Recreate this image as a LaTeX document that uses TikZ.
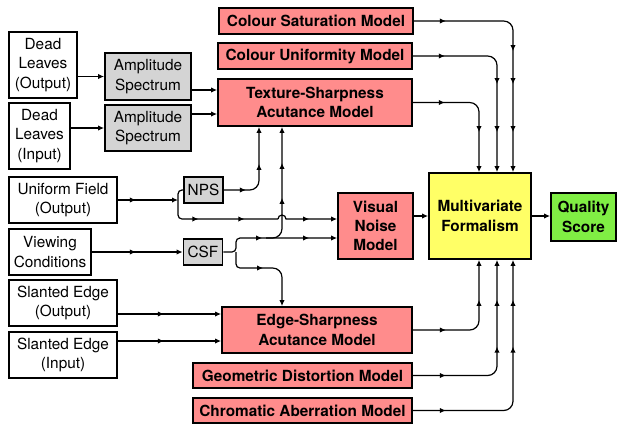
\documentclass[tikz,border=0pt]{standalone}
\usepackage{fontspec}
\setmainfont{TeX Gyre Heros}
\usetikzlibrary{arrows.meta,decorations.markings}
\definecolor{modelred}{RGB}{255,140,140}
\definecolor{formyellow}{RGB}{255,255,102}
\definecolor{scoregreen}{RGB}{128,238,68}
\definecolor{specgray}{RGB}{212,212,212}
\tikzset{
	box/.style={draw, line width=1.3pt, align=center, inner sep=0pt, font=\fontsize{11.5}{14.5}\selectfont},
	inbox/.style={box, fill=white},
	grbox/.style={box, fill=specgray},
	mdbox/.style={box, fill=modelred, font=\fontsize{11.5}{14.5}\selectfont\bfseries},
	fmbox/.style={box, fill=formyellow, font=\fontsize{11.5}{14.5}\selectfont\bfseries},
	scbox/.style={box, fill=scoregreen, font=\fontsize{11.5}{14.5}\selectfont\bfseries},
	wire/.style={line width=0.9pt},
	flow/.style={wire, -{Latex[length=4.5pt,width=4pt]}},
	midtip/.style={postaction={decorate,decoration={markings,mark=at position #1 with {\arrow{Latex[length=4.5pt,width=4pt]}}}}}
}

\begin{document}
\begin{tikzpicture}[x=0.75pt, y=-0.75pt]
		%%%%% START %%%%%
		\useasboundingbox (0,0) rectangle (617,426);
		
		% inputs
		\node[inbox, minimum width=51pt, minimum height=49.5pt] (dlo) at (43,65) {Dead\\Leaves\\(Output)};
		\node[inbox, minimum width=45.75pt, minimum height=49.5pt] (dli) at (39.5,136) {Dead\\Leaves\\(Input)};
		\node[inbox, minimum width=81pt, minimum height=34.5pt] (uf) at (63,200) {Uniform Field\\(Output)};
		\node[inbox, minimum width=61.5pt, minimum height=34.5pt] (vc) at (50,252) {Viewing\\Conditions};
		\node[inbox, minimum width=81pt, minimum height=34.5pt] (seo) at (63,303) {Slanted Edge\\(Output)};
		\node[inbox, minimum width=81pt, minimum height=34.5pt] (sei) at (63,355) {Slanted Edge\\(Input)};
		
		\node[grbox, minimum width=64.5pt, minimum height=35.25pt] (amp1) at (148,76.5) {Amplitude\\Spectrum};
		\node[grbox, minimum width=64.5pt, minimum height=34.5pt] (amp2) at (148,128) {Amplitude\\Spectrum};
		\node[grbox, minimum width=29.25pt, minimum height=19.5pt] (nps) at (203.5,190) {NPS};
		\node[grbox, minimum width=29.25pt, minimum height=19.5pt] (csf) at (203,252) {CSF};
		
		% models
		\node[mdbox, minimum width=145.5pt, minimum height=19.5pt] (csm) at (316,21) {Colour Saturation Model};
		\node[mdbox, minimum width=145.5pt, minimum height=19.5pt] (cum) at (315,56) {Colour Uniformity Model};
		\node[mdbox, minimum width=145.5pt, minimum height=35.25pt] (tsa) at (315,102.5) {Texture-Sharpness\\Acutance Model};
		\node[mdbox, minimum width=56.25pt, minimum height=49.5pt] (vn) at (375.5,226) {Visual\\Noise\\Model};
		\node[mdbox, minimum width=142.5pt, minimum height=34.5pt] (esa) at (317,330) {Edge-Sharpness\\Acutance Model};
		\node[mdbox, minimum width=164.25pt, minimum height=18.75pt] (gdm) at (302.5,375.5) {Geometric Distortion Model};
		\node[mdbox, minimum width=164.25pt, minimum height=18.75pt] (cam) at (302.5,410.5) {Chromatic Aberration Model};
		
		\node[fmbox, minimum width=76.5pt, minimum height=64.5pt] (mvf) at (480,216) {Multivariate\\Formalism};
		\node[scbox, minimum width=48.75pt, minimum height=36pt] (qs) at (583.5,217) {Quality\\Score};
		
		% columns and levels
		\coordinate (colA) at (479,0);
		\coordinate (colB) at (497,0);
		\coordinate (colC) at (513,0);
		\coordinate (colN) at (259,0);
		\coordinate (colV) at (282,0);
		\coordinate (ufs) at (178,200);
		\coordinate (csfs) at (236,252);
		\coordinate (hopL) at (278,219);
		\coordinate (brV) at (266,238);
		\coordinate (lvT1) at (0,90);
		\coordinate (lvT2) at (0,114);
		\coordinate (lvU) at (0,219);
		\coordinate (lvC) at (0,238);
		\coordinate (lvD) at (0,268);
		\coordinate (lvE1) at (0,314);
		\coordinate (lvE2) at (0,341);
		
		% dead leaves
		\draw[flow] (dlo.east |- amp1.west) -- (amp1.west);
		\draw[flow] (dli.east |- amp2.west) -- (amp2.west);
		\draw[flow] (amp1.east |- lvT1) -- (tsa.west |- lvT1);
		\draw[flow] (amp2.east |- lvT2) -- (tsa.west |- lvT2);
		
		% uniform field
		\draw[flow, midtip=13.5pt] (uf.east) -- (ufs);
		\draw[wire, rounded corners=3pt] (ufs) -- (ufs |- nps.west) -- (nps.west);
		\draw[wire, rounded corners=3pt, midtip=28.3pt, midtip=62.8pt] (ufs) -- (ufs |- lvU) -- (hopL);
		\draw[flow, midtip=-21pt] (hopL) arc[start angle=180, end angle=0, radius=3pt] -- (vn.west |- lvU);
		\draw[flow, rounded corners=7pt, midtip=16.5pt, midtip=-27.75pt] (nps.east) -- (nps.east -| colN) -- (tsa.south -| colN);
		
		% viewing conditions
		\draw[flow, midtip=33pt] (vc.east) -- (csf.west);
		\draw[flow, rounded corners=3pt, midtip=-56.25pt, midtip=-21pt] (csf.east) -- (csfs) -- (csfs |- lvC) -- (vn.west |- lvC);
		\draw[flow, rounded corners=3pt, midtip=31pt] (csfs) -- (csfs |- lvD) [rounded corners=7pt] -- (colV |- lvD) -- (esa.north -| colV);
		\draw[flow, rounded corners=7pt, midtip=-53.25pt, midtip=-27pt] (brV) -- (colV |- lvC) -- (tsa.south -| colV);
		
		% slanted edges
		\draw[flow, midtip=34.5pt] (seo.east |- lvE1) -- (esa.west |- lvE1);
		\draw[flow, midtip=34.5pt] (sei.east |- lvE2) -- (esa.west |- lvE2);
		
		% into the formalism
		\draw[flow, rounded corners=7pt, midtip=24pt, midtip=-90.75pt, midtip=-66pt, midtip=-30pt] (csm.east) -- (csm.east -| colC) -- (mvf.north -| colC);
		\draw[flow, rounded corners=7pt, midtip=24pt, midtip=-66pt, midtip=-30pt] (cum.east) -- (cum.east -| colB) -- (mvf.north -| colB);
		\draw[flow, rounded corners=7pt, midtip=24pt, midtip=-30pt] (tsa.east) -- (tsa.east -| colA) -- (mvf.north -| colA);
		\draw[flow, rounded corners=7pt, midtip=24.75pt, midtip=-30pt] (esa.east) -- (esa.east -| colA) -- (mvf.south -| colA);
		\draw[flow, rounded corners=7pt, midtip=24.75pt, midtip=-65pt, midtip=-30pt] (gdm.east) -- (gdm.east -| colB) -- (mvf.south -| colB);
		\draw[flow, rounded corners=7pt, midtip=24.75pt, midtip=-65pt, midtip=-30pt] (cam.east) -- (cam.east -| colC) -- (mvf.south -| colC);
		
		\draw[flow] (vn.east |- mvf.west) -- (mvf.west);
		\draw[flow] (mvf.east) -- (mvf.east -| qs.west);
		
		%%%%% END %%%%%
\end{tikzpicture}
\end{document}
